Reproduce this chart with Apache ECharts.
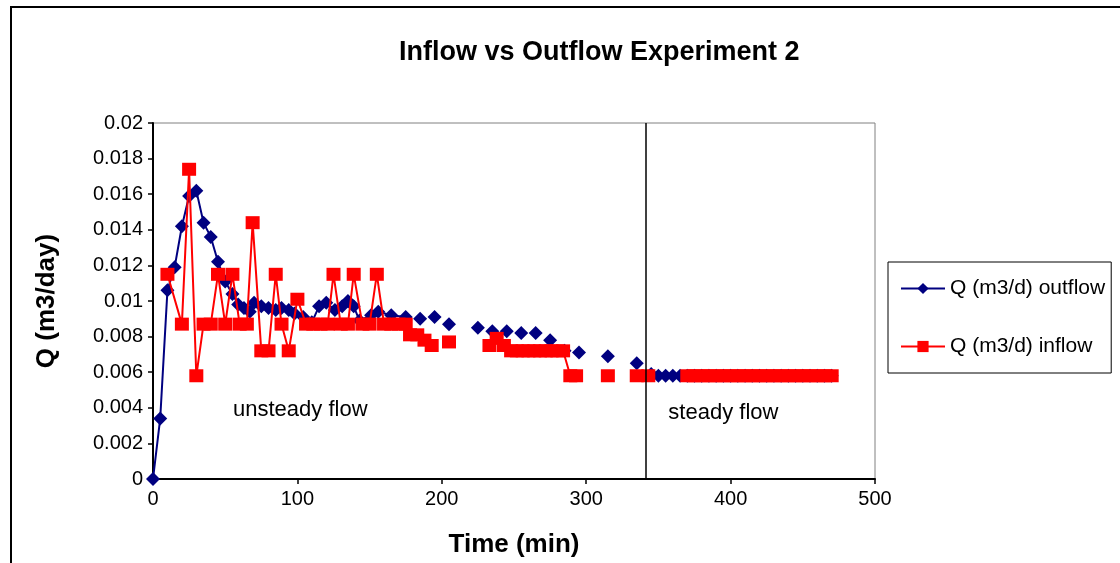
<!DOCTYPE html>
<html><head><meta charset="utf-8">
<script src="https://cdn.jsdelivr.net/npm/echarts@6/dist/echarts.min.js"></script>
<style>html,body{margin:0;padding:0;background:#fff}#c{width:1120px;height:563px}</style>
</head><body><div id="c"></div>
<script>
const chartTitle = 'Inflow vs Outflow Experiment 2';
const xTitle = 'Time (min)';
const yTitle = 'Q (m3/day)';
const outflowName = 'Q (m3/d) outflow';
const inflowName = 'Q (m3/d) inflow';

// Outflow (null = gap in line)
const outflowTime = [0,5,10,15,20,25,30,35,40,45,50,55,59,63,67,70,75,80,85,89,94,98,104,110,115,120,126,131,135,139,143,151,156,165,175,
  180,185,190,195,200,205,215,225,230,235,240,245,250,255,260,265,270,275,280,285,290,295,305,315,325,335,340,
  345,350,355,360,365,370,375,380,385,390,395,400,405,410,415,420,425,430,435,440,445,450,455,460,465,470];
const outflowQ = [0,0.0034,0.0106,0.0119,0.0142,0.0159,0.0162,0.0144,0.0136,0.0122,0.0111,0.0104,0.0098,0.0096,0.0094,0.0099,0.0097,0.0096,0.0095,0.0096,0.0095,0.0093,0.0091,0.0088,0.0097,0.0099,0.0095,0.0097,0.0100,0.0097,0.0089,0.0092,0.0094,0.0092,0.0091,
  null,0.0090,null,0.0091,null,0.0087,null,0.0085,null,0.0083,null,0.0083,null,0.0082,null,0.0082,null,0.0078,null,0.0072,null,0.0071,null,0.0069,null,0.0065,null,
  0.0059,0.0058,0.0058,0.0058,0.0058,0.0058,0.0058,0.0058,0.0058,0.0058,0.0058,0.0058,0.0058,0.0058,0.0058,0.0058,0.0058,0.0058,0.0058,0.0058,0.0058,0.0058,0.0058,0.0058,0.0058,0.0058];

// Inflow (null = gap in line)
const inflowTime = [10,20,25,30,35,40,45,50,55,60,65,69,75,80,85,89,94,100,106,111,116,121,125,130,135,139,145,150,155,160,165,170,175,178,183,188,193,
  199,205,219,233,238,243,248,252,256,260,264,268,272,276,280,284,289,293,304,315,325,335,343,356,
  370,375,380,385,390,395,400,405,410,415,420,425,430,435,440,445,450,455,460,465,470];
const inflowQ = [0.0115,0.0087,0.0174,0.0058,0.0087,0.0087,0.0115,0.0087,0.0115,0.0087,0.0087,0.0144,0.0072,0.0072,0.0115,0.0087,0.0072,0.0101,0.0087,0.0087,0.0087,0.0087,0.0115,0.0087,0.0087,0.0115,0.0087,0.0087,0.0115,0.0087,0.0087,0.0087,0.0087,0.0081,0.0081,0.0078,0.0075,
  null,0.0077,null,0.0075,0.0079,0.0075,0.0072,0.0072,0.0072,0.0072,0.0072,0.0072,0.0072,0.0072,0.0072,0.0072,0.0058,0.0058,null,0.0058,null,0.0058,0.0058,null,
  0.0058,0.0058,0.0058,0.0058,0.0058,0.0058,0.0058,0.0058,0.0058,0.0058,0.0058,0.0058,0.0058,0.0058,0.0058,0.0058,0.0058,0.0058,0.0058,0.0058,0.0058];

const boundaryTime = 341;
const annotationText = ['unsteady flow', 'steady flow'];
const annotationTime = [102, 395];
const annotationQ = [0.0039, 0.0037];

const toPairs = (ts, qs) => ts.map((t, i) => [t, qs[i] === null ? '-' : qs[i]]);
const FONT = '"Liberation Sans", Arial, sans-serif';

const chart = echarts.init(document.getElementById('c'), null, {renderer: 'canvas'});
chart.setOption({
  animation: false,
  backgroundColor: '#fff',
  textStyle: {fontFamily: FONT, color: '#000'},
  title: {
    text: chartTitle, left: 394, top: 34,
    textStyle: {fontFamily: FONT, fontSize: 27, fontWeight: 'bold', color: '#000'}
  },
  graphic: [{
    type: 'rect', shape: {x: 11, y: 7, width: 1130, height: 570},
    style: {fill: 'none', stroke: '#000', lineWidth: 2}, silent: true, z: -1
  }],
  grid: {left: 153, right: 245, top: 123, bottom: 82, show: true, borderColor: '#808080', borderWidth: 1, backgroundColor: '#fff'},
  legend: {
    orient: 'vertical', left: 888, top: 262,
    padding: [16, 6, 16, 12], itemGap: 37, itemWidth: 44, itemHeight: 14,
    borderColor: '#000', borderWidth: 1,
    textStyle: {fontFamily: FONT, fontSize: 21, color: '#000'},
    data: [outflowName, inflowName]
  },
  xAxis: {
    type: 'value', min: 0, max: 500, interval: 100,
    name: xTitle, nameLocation: 'middle', nameGap: 53,
    nameTextStyle: {fontFamily: FONT, fontSize: 26, fontWeight: 'bold', color: '#000'},
    axisLine: {show: true, lineStyle: {color: '#000', width: 2}},
    axisTick: {show: true, inside: false, length: 5, lineStyle: {color: '#000', width: 1.5}},
    axisLabel: {fontFamily: FONT, fontSize: 20, color: '#000', margin: 10},
    splitLine: {show: false}
  },
  yAxis: {
    type: 'value', min: 0, max: 0.02, interval: 0.002,
    name: yTitle, nameLocation: 'middle', nameGap: 93, nameRotate: 90,
    nameTextStyle: {fontFamily: FONT, fontSize: 26, fontWeight: 'bold', color: '#000'},
    axisLine: {show: true, lineStyle: {color: '#000', width: 2}},
    axisTick: {show: true, inside: false, length: 5, lineStyle: {color: '#000', width: 1.5}},
    axisLabel: {fontFamily: FONT, fontSize: 20, color: '#000', margin: 10,
      formatter: v => String(+v.toFixed(4))},
    splitLine: {show: false}
  },
  series: [
    {
      name: outflowName, type: 'line', data: toPairs(outflowTime, outflowQ),
      connectNulls: false, symbol: 'diamond', symbolSize: 14,
      itemStyle: {color: '#000080'}, lineStyle: {color: '#000080', width: 2},
      z: 2,
      markLine: {
        silent: true, symbol: 'none', label: {show: false},
        lineStyle: {color: '#000', width: 1.5, type: 'solid'},
        data: [{xAxis: boundaryTime}]
      }
    },
    {
      name: inflowName, type: 'line', data: toPairs(inflowTime, inflowQ),
      connectNulls: false, symbol: 'rect', symbolSize: [14, 13],
      itemStyle: {color: '#ff0000'}, lineStyle: {color: '#ff0000', width: 2},
      z: 3,
      markPoint: {
        silent: true, symbol: 'circle', symbolSize: 1,
        itemStyle: {color: 'rgba(0,0,0,0)'},
        label: {show: true, position: 'inside', fontFamily: FONT, fontSize: 22, color: '#000', formatter: p => p.name},
        data: annotationText.map((s, i) => ({name: s, coord: [annotationTime[i], annotationQ[i]]}))
      }
    }
  ]
});
</script></body></html>
